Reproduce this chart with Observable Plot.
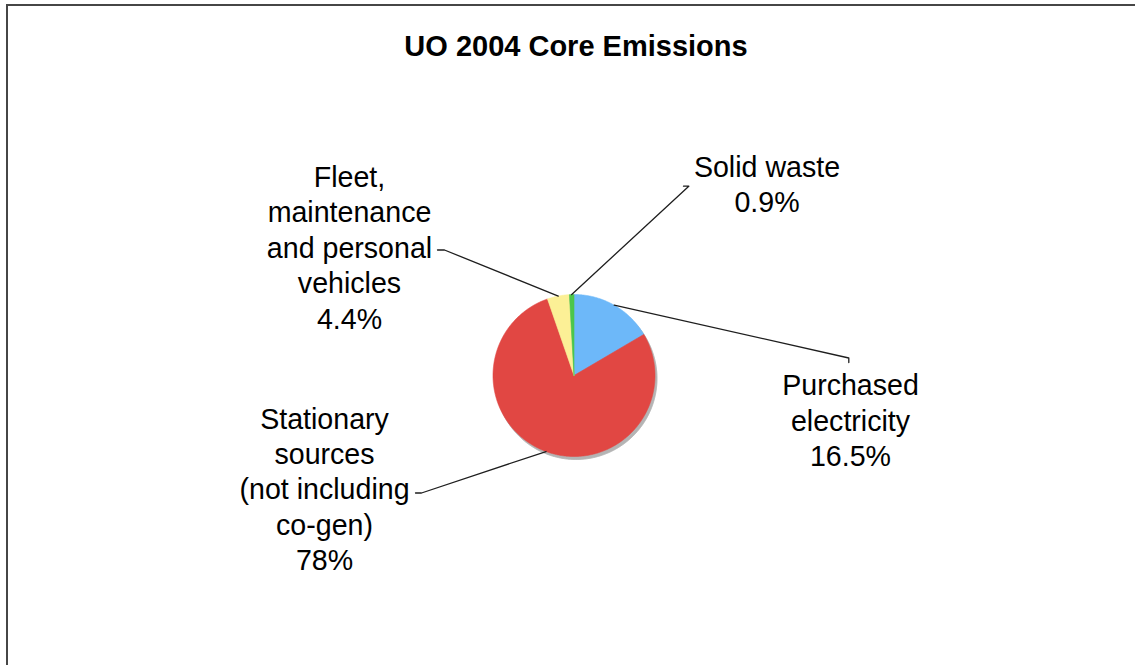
<!DOCTYPE html>
<html>
<head>
<meta charset="utf-8">
<script src="https://cdn.jsdelivr.net/npm/d3@7"></script>
<script src="https://cdn.jsdelivr.net/npm/@observablehq/plot@0.6"></script>
<style>
  html, body { margin: 0; padding: 0; background: #fff; }
  #frame { position: relative; width: 1135px; height: 665px; overflow: hidden;
           font-family: "Liberation Sans", Arial, Helvetica, sans-serif; }
  #border { position: absolute; left: 6px; top: 4px; right: -4px; bottom: -4px;
            border-top: 2px solid #464646; border-left: 2px solid #464646; }
  #title { position: absolute; left: 0; top: 32px; width: 1152px; text-align: center;
           font-size: 29px; line-height: 29px; font-weight: bold; color: #000; }
  #chart { position: absolute; left: 0; top: 0; }
</style>
</head>
<body>
<div id="frame">
  <div id="border"></div>
  <div id="chart"></div>
  <div id="title">UO 2004 Core Emissions</div>
</div>
<script>
// ---------- data ----------
const categories = [
  "Purchased electricity",
  "Stationary sources (not including co-gen)",
  "Fleet, maintenance and personal vehicles",
  "Solid waste"
];
const shares = [16.5, 78, 4.4, 0.9];
const valueLabels = ["16.5%", "78%", "4.4%", "0.9%"];
const labelLines = [
  "Purchased\nelectricity",
  "Stationary\nsources\n(not including\nco-gen)",
  "Fleet,\nmaintenance\nand personal\nvehicles",
  "Solid waste"
];

// ---------- styles ----------
const sliceColors = ["#6db8f9", "#e14743", "#fcf096", "#4cc64c"];
const shadowColor = "#b4b4b4";

// ---------- layout (pixels) ----------
const W = 1135, H = 665;
const CX = 573.5, CY = 375, R = 81;
const FS = 28.6, LH = 35.4;
// label text centre x, first baseline y
const labelPos = [[850, 395], [324, 428.3], [349, 186.7], [766.5, 176.7]];
// leader elbow and end points
const leaderElbow = [[848.3, 357.5], [421, 492.5], [444, 249.5], [688.3, 185.7]];
const leaderEnd = [[848.3, 362], [415, 492.5], [437, 249.5], [683, 185.7]];

const ux = px => (px - CX) / R;
const uy = py => (CY - py) / R;

// ---------- geometry from data ----------
const arcs = d3.pie().sort(null).value(d => d)(shares);
const sliceRows = [];
arcs.forEach((a, i) => {
  sliceRows.push({cat: categories[i], u: 0, v: 0});
  const n = Math.max(2, Math.ceil((a.endAngle - a.startAngle) / (Math.PI / 360)));
  for (let k = 0; k <= n; k++) {
    const t = a.startAngle + (a.endAngle - a.startAngle) * k / n;
    sliceRows.push({cat: categories[i], u: Math.sin(t), v: Math.cos(t)});
  }
  sliceRows.push({cat: categories[i], u: 0, v: 0});
});

const leaderRows = [];
arcs.forEach((a, i) => {
  const m = (a.startAngle + a.endAngle) / 2;
  leaderRows.push({cat: categories[i], u: Math.sin(m), v: Math.cos(m)});
  leaderRows.push({cat: categories[i], u: ux(leaderElbow[i][0]), v: uy(leaderElbow[i][1])});
  leaderRows.push({cat: categories[i], u: ux(leaderEnd[i][0]), v: uy(leaderEnd[i][1])});
});

const labelRows = categories.map((c, i) => ({
  cat: c,
  text: labelLines[i] + "\n" + valueLabels[i],
  u: ux(labelPos[i][0]),
  v: uy(labelPos[i][1] - 0.71 * FS - 5)
}));

const chart = Plot.plot({
  width: W,
  height: H,
  margin: 0,
  x: {domain: [ux(0), ux(W)], range: [0, W], axis: null},
  y: {domain: [uy(H), uy(0)], range: [H, 0], axis: null},
  color: {type: "ordinal", domain: categories, range: sliceColors},
  style: {background: "transparent", fontFamily: "'Liberation Sans', Arial, Helvetica, sans-serif"},
  marks: [
    Plot.line(sliceRows, {x: "u", y: "v", z: "cat", fill: shadowColor, stroke: shadowColor, strokeWidth: 1, dx: 2, dy: 3, curve: "linear"}),
    Plot.line(sliceRows, {x: "u", y: "v", z: "cat", fill: "cat", stroke: "cat", strokeWidth: 0.6, curve: "linear"}),
    Plot.line(leaderRows, {x: "u", y: "v", z: "cat", stroke: "#1e1e1e", strokeWidth: 1.3, curve: "linear"}),
    Plot.text(labelRows, {x: "u", y: "v", text: "text", textAnchor: "middle", lineAnchor: "top",
      fontSize: FS, lineHeight: LH / FS, fill: "#000"})
  ]
});
document.getElementById("chart").appendChild(chart);
</script>
</body>
</html>
